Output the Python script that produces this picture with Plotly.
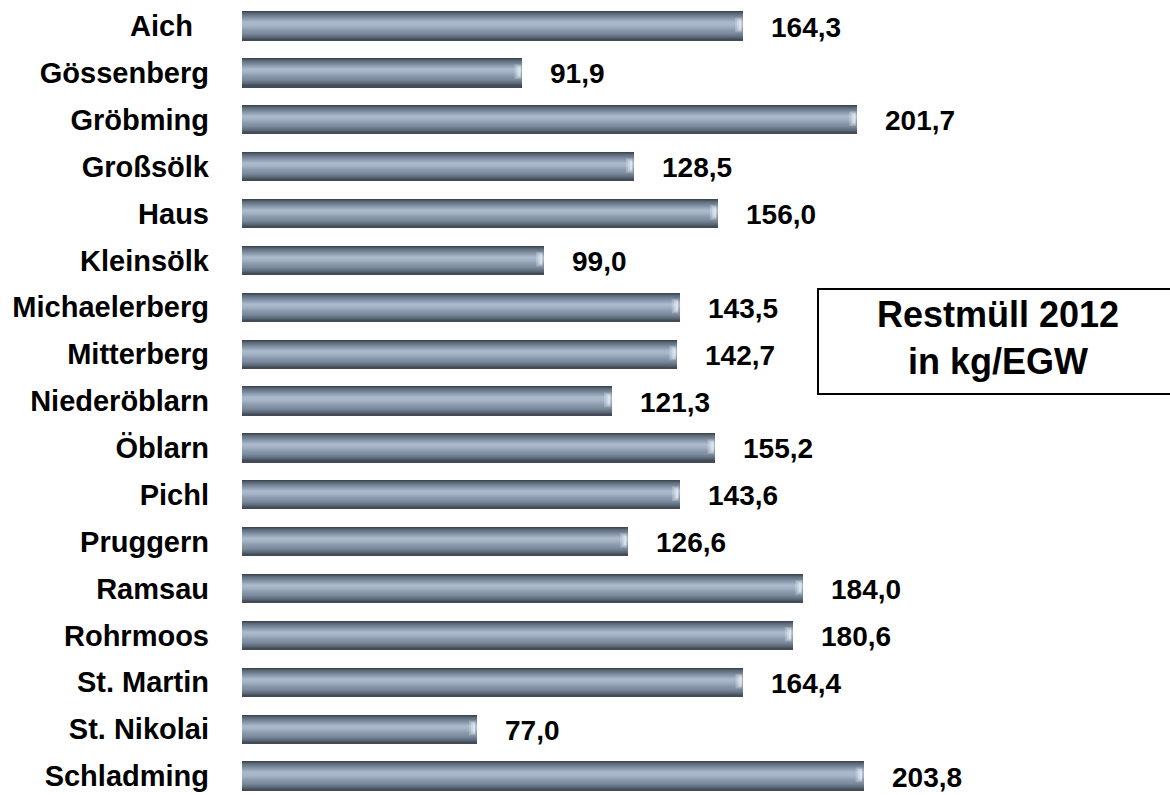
import plotly.graph_objects as go

# Restmüll 2012 per Gemeinde (kg/EGW)
gemeinden = [
    "Aich\u00a0\u00a0", "Gössenberg", "Gröbming", "Großsölk", "Haus", "Kleinsölk",
    "Michaelerberg", "Mitterberg", "Niederöblarn", "Öblarn", "Pichl",
    "Pruggern", "Ramsau", "Rohrmoos", "St. Martin", "St. Nikolai", "Schladming",
]
restmuell = [
    164.3, 91.9, 201.7, 128.5, 156.0, 99.0,
    143.5, 142.7, 121.3, 155.2, 143.6,
    126.6, 184.0, 180.6, 164.4, 77.0, 203.8,
]
titel = "Restmüll 2012<br>in kg/EGW"

FONT = "Liberation Sans, Arial, sans-serif"
positions = list(range(len(gemeinden)))

# colour stops of the cylinder shading, top edge (0) to bottom edge (1)
stops = [
    (0.00, (54, 62, 72)),
    (0.10, (94, 108, 124)),
    (0.25, (132, 148, 166)),
    (0.40, (172, 188, 206)),
    (0.50, (164, 180, 198)),
    (0.62, (142, 158, 176)),
    (0.78, (120, 136, 154)),
    (0.90, (92, 105, 120)),
    (1.00, (60, 68, 80)),
]


def shade(t):
    for (t0, c0), (t1, c1) in zip(stops, stops[1:]):
        if t0 <= t <= t1:
            f = (t - t0) / (t1 - t0)
            rgb = [a + (b - a) * f for a, b in zip(c0, c1)]
            return "rgb({:.0f},{:.0f},{:.0f})".format(*rgb)
    return "rgb(60,68,80)"


bar_w = 0.60
n = 28
strip = bar_w / n

fig = go.Figure()
for i in range(n):
    t = (i + 0.5) / n
    fig.add_trace(go.Bar(
        x=restmuell, y=positions, orientation="h",
        width=strip * 1.6, offset=-bar_w / 2 + i * strip,
        marker=dict(color=shade(t), line=dict(width=0)),
        hoverinfo="skip", showlegend=False,
    ))

# rounded right end: a light highlight that fades into the body
for v, p in zip(restmuell, positions):
    for k, (dx0, dx1, a) in enumerate([(2.6, 0.4, 0.25), (1.9, 0.5, 0.35), (1.3, 0.6, 0.45)]):
        fig.add_shape(type="rect", xref="x", yref="y",
                      x0=v - dx0, x1=v - dx1,
                      y0=p - bar_w * (0.30 - 0.05 * k), y1=p + bar_w * (0.22 - 0.05 * k),
                      fillcolor=f"rgba(240,246,252,{a})", line=dict(width=0), layer="above")

# value labels
for v, p in zip(restmuell, positions):
    fig.add_annotation(
        x=v, y=p, xref="x", yref="y", xanchor="left", yanchor="middle",
        xshift=26, yshift=-1, showarrow=False,
        text=f"{v:.1f}".replace(".", ","),
        font=dict(family=FONT, size=28, color="black", weight="bold"),
    )

# title box
fig.add_shape(type="rect", xref="paper", yref="paper",
              x0=(818 - 242) / 928, x1=1.05, y0=0.5044, y1=0.6365,
              line=dict(color="black", width=2), fillcolor="white", layer="above")
fig.add_annotation(
    x=(998 - 242) / 928, y=0.5748, xref="paper", yref="paper",
    xanchor="center", yanchor="middle", showarrow=False, align="center",
    text=titel,
    font=dict(family=FONT, size=36, color="black", weight="bold"),
)

fig.update_layout(
    width=1170, height=795,
    margin=dict(l=242, r=0, t=0, b=0),
    paper_bgcolor="white", plot_bgcolor="white",
    barmode="overlay", bargap=0,
    xaxis=dict(range=[0, 928 / 3.05], visible=False, fixedrange=True),
    yaxis=dict(
        range=[16 + 19 / 46.875, -26 / 46.875],
        tickvals=positions, ticktext=gemeinden,
        showgrid=False, zeroline=False, showline=False,
        ticks="", ticklabelstandoff=32,
        tickfont=dict(family=FONT, size=29, color="black", weight="bold"),
        fixedrange=True,
    ),
)

fig.write_html("out.html")
